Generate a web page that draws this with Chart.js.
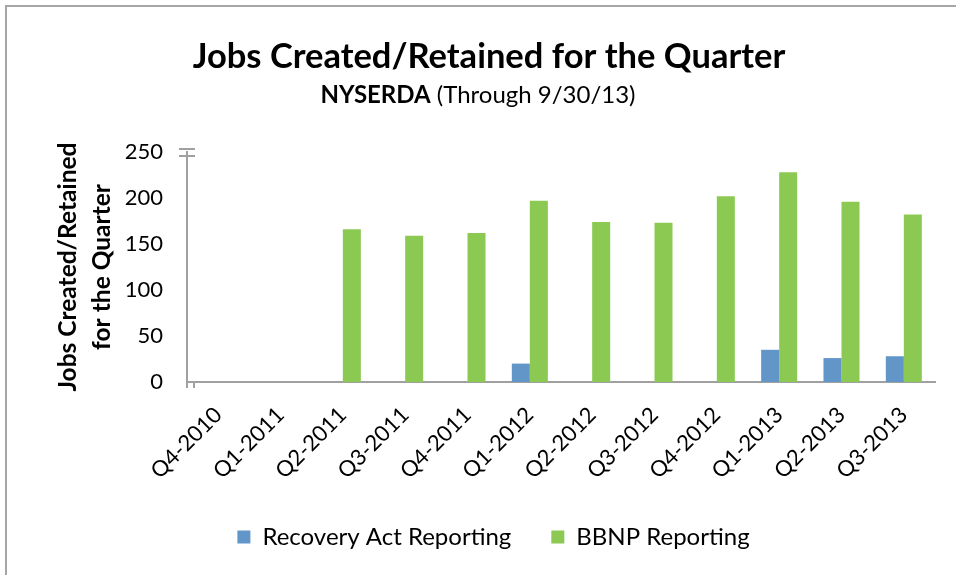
<!DOCTYPE html>
<html>
<head>
<meta charset="utf-8">
<script src="https://cdn.jsdelivr.net/npm/chart.js@4/dist/chart.umd.min.js"></script>
<style>
  html, body { margin: 0; padding: 0; background: #fff; }
  #wrap { position: relative; width: 956px; height: 575px; overflow: hidden; }
  #frame { position: absolute; left: 5px; top: 5px; width: 960px; height: 580px;
           border-top: 2px solid #a6a6a6; border-left: 2px solid #a6a6a6; box-sizing: border-box; }
  canvas { position: absolute; left: 0; top: 0; }
</style>
</head>
<body>
<div id="wrap">
  <div id="frame"></div>
  <canvas id="c" width="956" height="575"></canvas>
</div>
<script>
const categories = ['Q4-2010','Q1-2011','Q2-2011','Q3-2011','Q4-2011','Q1-2012','Q2-2012','Q3-2012','Q4-2012','Q1-2013','Q2-2013','Q3-2013'];
const recoveryAct = [0, 0, 0, 0, 0, 20, 0, 0, 0, 35, 26, 28];
const bbnp = [0, 0, 166, 159, 162, 197, 174, 173, 202, 228, 196, 182];
const yTicks = [0, 50, 100, 150, 200, 250];
const seriesNames = ['Recovery Act Reporting', 'BBNP Reporting'];
const titleText = 'Jobs Created/Retained for the Quarter';
const subtitleBold = 'NYSERDA';
const subtitleRest = ' (Through 9/30/13)';
const yTitle = ['Jobs Created/Retained', 'for the Quarter'];

const FONT = 'Lato, "Open Sans", sans-serif';
const AXIS = '#a0a0a0';

const headerPlugin = {
  id: 'header',
  afterDraw(chart) {
    const ctx = chart.ctx;
    ctx.save();
    ctx.fillStyle = '#000';
    ctx.textBaseline = 'alphabetic';
    ctx.textAlign = 'center';
    ctx.font = 'bold 34.5px ' + FONT;
    ctx.fillText(titleText, 489, 68);
    ctx.font = 'bold 24px ' + FONT;
    const wB = ctx.measureText(subtitleBold).width;
    ctx.font = '24px ' + FONT;
    const wR = ctx.measureText(subtitleRest).width;
    const x0 = 478 - (wB + wR) / 2;
    ctx.textAlign = 'left';
    ctx.font = 'bold 24px ' + FONT;
    ctx.fillText(subtitleBold, x0, 103);
    ctx.font = '24px ' + FONT;
    ctx.fillText(subtitleRest, x0 + wB, 103);
    // axis break mark and corner ticks
    const y = chart.scales.y;
    const xAx = chart.chartArea.left;
    ctx.strokeStyle = AXIS;
    ctx.lineWidth = 2;
    ctx.beginPath();
    ctx.moveTo(xAx - 8, y.top - 3); ctx.lineTo(xAx + 8, y.top - 3);
    ctx.moveTo(xAx - 8, y.top + 4); ctx.lineTo(xAx + 8, y.top + 4);
    const yb = chart.chartArea.bottom;
    ctx.moveTo(xAx, yb); ctx.lineTo(xAx, yb + 6);
    ctx.moveTo(xAx + 7, yb); ctx.lineTo(xAx + 7, yb + 6);
    ctx.stroke();
    ctx.restore();
  }
};

new Chart(document.getElementById('c'), {
  type: 'bar',
  data: {
    labels: categories,
    datasets: [
      { label: seriesNames[0], data: recoveryAct, backgroundColor: '#6296c9', borderWidth: 0 },
      { label: seriesNames[1], data: bbnp, backgroundColor: '#8bc953', borderWidth: 0 }
    ]
  },
  options: {
    responsive: false,
    animation: false,
    devicePixelRatio: 1,
    layout: { padding: { left: 52, right: 21, top: 152, bottom: 16 } },
    datasets: { bar: { categoryPercentage: 0.578, barPercentage: 1.0 } },
    plugins: {
      title: { display: false },
      tooltip: { enabled: false },
      legend: {
        position: 'bottom',
        labels: {
          boxWidth: 13, boxHeight: 13, padding: 40,
          color: '#000',
          font: { family: FONT, size: 24 }
        }
      }
    },
    scales: {
      x: {
        grid: { display: false, drawTicks: false },
        border: { display: true, color: AXIS, width: 2 },
        ticks: {
          color: '#000', font: { family: FONT, size: 22 },
          maxRotation: 45, minRotation: 45, autoSkip: false, padding: 20
        },
        afterFit(s) { s.height = 103; }
      },
      y: {
        min: 0, max: 250,
        afterBuildTicks(s) { s.ticks = yTicks.map(v => ({ value: v })); },
        grid: { display: false, drawTicks: false },
        border: { display: true, color: AXIS, width: 2 },
        ticks: { color: '#000', font: { family: FONT, size: 22 }, padding: 24 },
        title: {
          display: true, text: yTitle, color: '#000',
          font: { family: FONT, size: 24.5, weight: 'bold', lineHeight: 1.35 },
          padding: { top: 0, bottom: 0 }
        },
        afterFit(s) { s.width = 135; }
      }
    }
  },
  plugins: [headerPlugin]
});
</script>
</body>
</html>
